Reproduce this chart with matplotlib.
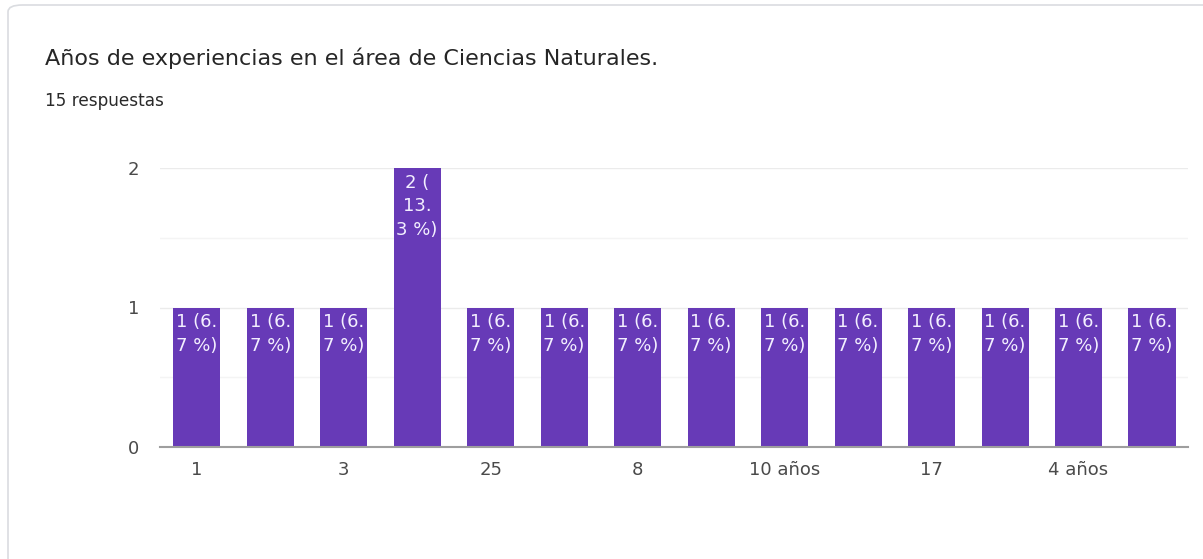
import matplotlib.pyplot as plt
from matplotlib.patches import FancyBboxPatch
import numpy as np

plt.rcParams['font.family'] = ['DejaVu Sans']

# respuestas por categoría (solo se rotula una de cada dos en el eje)
categorias = ["1", "2", "3", "5", "25", "15", "8", "20",
              "10 años", "12", "17", "6", "4 años", "7"]
conteos = [1, 1, 1, 2, 1, 1, 1, 1, 1, 1, 1, 1, 1, 1]
total = sum(conteos)

titulo = "Años de experiencias en el área de Ciencias Naturales."
subtitulo = f"{total} respuestas"

W, H = 1203, 559
color_barra = "#673ab7"

# ancho aproximado de caracteres (en em) para partir la etiqueta dentro de la barra
anchos = {" ": 0.318, "(": 0.39, ")": 0.39, ".": 0.318, "%": 0.95}


def partir(texto, maximo=2.42):
    trozos, actual = [], ""
    for c in texto:
        actual += c
        if c in " (.":
            trozos.append(actual)
            actual = ""
    if actual:
        trozos.append(actual)
    lineas, linea, ancho = [], "", 0.0
    for t in trozos:
        w = sum(anchos.get(c, 0.636) for c in t)
        if linea and ancho + w > maximo:
            lineas.append(linea.rstrip())
            linea, ancho = "", 0.0
        linea += t
        ancho += w
    lineas.append(linea.rstrip())
    return "\n".join(lineas)


fig = plt.figure(figsize=(W / 100, H / 100), dpi=100)

# tarjeta de fondo
card = FancyBboxPatch((8 / W, -0.05), 1.05, 1 - 5 / H + 0.05,
                      boxstyle="round,pad=0,rounding_size=0.012",
                      transform=fig.transFigure, facecolor="white",
                      edgecolor="#dadce0", linewidth=1.2, zorder=-1)
fig.patches.append(card)

fig.text(45 / W, 1 - 58 / H, titulo, fontsize=16, color="#262626", va="center")
fig.text(45 / W, 1 - 101 / H, subtitulo, fontsize=12.2, color="#2a2a2a", va="center")

ax = fig.add_axes([160 / W, 112 / H, 1028 / W, 279 / H])
x = np.arange(len(conteos))
barras = ax.bar(x, conteos, width=0.64, color=color_barra, zorder=3)

for b, v in zip(barras, conteos):
    etiqueta = partir(f"{v} ({v / total * 100:.1f} %)")
    ax.annotate(etiqueta, (b.get_x() + b.get_width() / 2, v),
                xytext=(0, -4), textcoords="offset points",
                ha="center", va="top", color="#f3efff", fontsize=13,
                linespacing=1.42, zorder=4)

ax.set_xlim(-0.5, len(conteos) - 0.51)
ax.set_ylim(0, 2)
ax.set_yticks([0, 1, 2])
ax.set_yticks([0.5, 1.5], minor=True)
ax.set_xticks(x[::2])
ax.set_xticklabels(categorias[::2])

ax.grid(axis="y", which="major", color="#ebebeb", linewidth=1, zorder=0)
ax.grid(axis="y", which="minor", color="#f4f4f4", linewidth=1, zorder=0)
ax.tick_params(axis="both", which="both", length=0, labelsize=13, labelcolor="#4a4a4a")
ax.tick_params(axis="y", pad=15)
ax.tick_params(axis="x", pad=10)

for lado in ["top", "left", "right"]:
    ax.spines[lado].set_visible(False)
ax.spines["bottom"].set_color("#9e9e9e")
ax.spines["bottom"].set_linewidth(1.5)
ax.spines["bottom"].set_zorder(5)

fig.savefig("out.png", dpi=100)
